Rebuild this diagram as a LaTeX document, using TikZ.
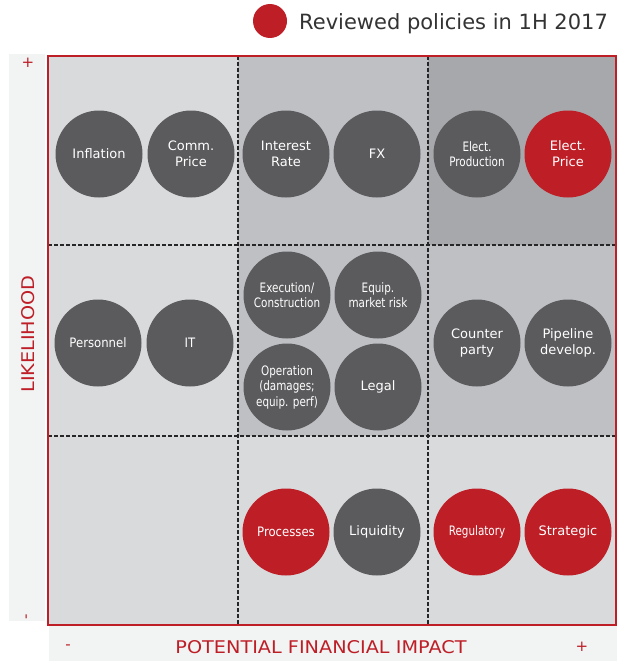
\documentclass[tikz,border=0pt]{standalone}
\usepackage{fontspec}
\setmainfont{DejaVu Sans}
\newfontfamily\squeezed{DejaVu Sans}[FakeStretch=0.8]
\newfontfamily\narrowed{DejaVu Sans}[FakeStretch=0.9]
\newfontfamily\axisfont{DejaVu Sans}[FakeStretch=1.1]
\definecolor{riskred}{HTML}{BE1E26}
\definecolor{riskgray}{HTML}{5B5B5E}
\definecolor{celllow}{HTML}{D9DADC}
\definecolor{cellmid}{HTML}{BFC0C3}
\definecolor{cellhigh}{HTML}{A7A8AB}
\definecolor{strip}{HTML}{F2F3F3}
\definecolor{keytext}{HTML}{333333}
\tikzset{
  risk/.style={circle,fill=riskgray,text=white,minimum size=87pt,inner sep=0pt,
    align=center,font=\fontsize{13}{16}\selectfont},
  reviewed/.style={risk,fill=riskred},
  tight/.style={font=\squeezed\fontsize{13}{15.5}\selectfont},
  narrow/.style={font=\narrowed\fontsize{13}{16}\selectfont},
  grid/.style={black!85,line width=1.3pt,dash pattern=on 4pt off 2pt},
  axislabel/.style={text=riskred,font=\axisfont\fontsize{17.5}{20}\selectfont,inner sep=0pt},
  sign/.style={text=riskred,font=\fontsize{15}{18}\selectfont,inner sep=0pt}
}
\begin{document}
\begin{tikzpicture}[x=1pt,y=-1pt]
  \useasboundingbox (0,0) rectangle (617,661);
  \fill[strip] (9,54) rectangle (45,621);
  \fill[strip] (49,626) rectangle (617,661);
  \fill[celllow] (48,56) rectangle (238,625);
  \fill[cellmid] (238,56) rectangle (428,436);
  \fill[cellhigh] (428,56) rectangle (616,245);
  \fill[cellmid] (428,245) rectangle (616,436);
  \fill[celllow] (238,436) rectangle (616,625);
  \draw[grid] (238,56) -- (238,625);
  \draw[grid] (428,56) -- (428,625);
  \draw[grid] (48,245) -- (616,245);
  \draw[grid] (48,436) -- (616,436);
  \draw[riskred,line width=2.5pt] (48,56) rectangle (616,625);

  \node[circle,fill=riskred,minimum size=34pt,inner sep=0pt] (key) at (270,21) {};
  \node[anchor=base west,inner sep=0pt,text=keytext,font=\fontsize{21}{25}\selectfont]
    (keytext) at (299,30) {Reviewed policies in 1H 2017};

  \node[axislabel,rotate=90] (likelihood) at (28,334) {LIKELIHOOD};
  \node[axislabel] (impact) at (321,647) {POTENTIAL FINANCIAL IMPACT};
  \node[sign] (lplus) at (28,63) {+};
  \node[sign,rotate=90] (lminus) at (28,617) {-};
  \node[sign] (bminus) at (68,647) {-};
  \node[sign] (bplus) at (582,647) {+};

  \node[risk] (infl) at (99,154) {Inflation};
  \node[risk] (comm) at (191,154) {Comm.\\Price};
  \node[risk] (rate) at (286,154) {Interest\\Rate};
  \node[risk] (fx) at (377,154) {FX};
  \node[risk,tight] (eprod) at (477,154) {Elect.\\Production};
  \node[reviewed] (eprice) at (568,154) {Elect.\\Price};

  \node[risk,narrow] (staff) at (98,343) {Personnel};
  \node[risk,narrow] (it) at (190,343) {IT};
  \node[risk,tight] (exec) at (287,295) {Execution/\\Construction};
  \node[risk,tight] (equip) at (378,295) {Equip.\\market risk};
  \node[risk,tight] (oper) at (287,387) {Operation\\(damages;\\equip. perf)};
  \node[risk] (legal) at (378,387) {Legal};
  \node[risk] (counter) at (477,343) {Counter\\party};
  \node[risk] (pipe) at (568,343) {Pipeline\\develop.};

  \node[reviewed,narrow] (proc) at (286,532) {Processes};
  \node[risk] (liq) at (377,532) {Liquidity};
  \node[reviewed,tight] (reg) at (477,532) {Regulatory};
  \node[reviewed] (strat) at (568,532) {Strategic};
\end{tikzpicture}
\end{document}
